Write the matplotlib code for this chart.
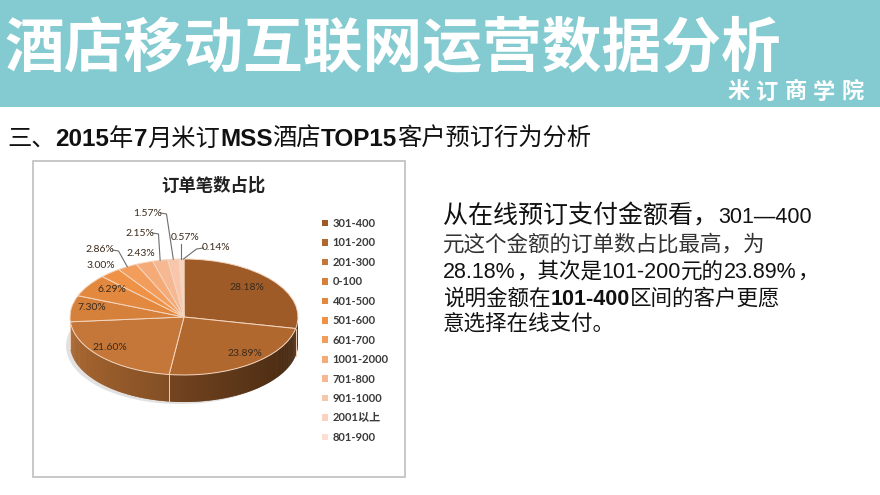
import numpy as np
import matplotlib
matplotlib.use("Agg")
import matplotlib.pyplot as plt
from matplotlib.patches import Rectangle, Ellipse, Polygon
from matplotlib.colors import to_rgb

CJK = ['Noto Sans CJK SC', 'DejaVu Sans']
LAT = ['Liberation Sans', 'Noto Sans CJK SC']
SMALL = ['Lato', 'Noto Sans CJK SC']

# ---------------- data ----------------
page_title = "酒店移动互联网运营数据分析"
brand = "米订商学院"
chart_title = "订单笔数占比"
categories = ["301-400", "101-200", "201-300", "0-100", "401-500", "501-600",
              "601-700", "1001-2000", "701-800", "901-1000", "2001以上", "801-900"]
shares = [28.18, 23.89, 21.60, 7.30, 6.29, 3.00, 2.86, 2.43, 2.15, 1.57, 0.57, 0.14]
pct_labels = ["28.18%", "23.89%", "21.60%", "7.30%", "6.29%", "3.00%",
              "2.86%", "2.43%", "2.15%", "1.57%", "0.57%", "0.14%"]

# ---------------- style / layout ----------------
colors = ['#9e5b27', '#b0682f', '#c47738', '#d5813b', '#e3893f', '#ef9246',
          '#f29d5b', '#f4ab78', '#f6b892', '#f8c6ab', '#fad3c0', '#fcdfd2']
# label centres (image pixels) and whether a leader line is drawn
label_pos = [(247, 287), (245, 354), (110, 347), (92, 307), (112, 289), (101, 266),
             (100, 250), (141, 253), (140, 233), (148, 213), (185, 238), (216, 248)]
leader = [False, False, False, False, False, False, True, False, True, True, True, True]

W, H = 880, 495
fig = plt.figure(figsize=(W / 100, H / 100), dpi=100)
bg = fig.add_axes([0, 0, 1, 1])
bg.set_xlim(0, W)
bg.set_ylim(H, 0)
bg.axis('off')

# header band
bg.add_patch(Rectangle((0, 0), W, 107, facecolor='#83cbd0', edgecolor='none', zorder=0))
bg.text(5, 50, page_title, fontsize=43, color='white', weight='bold', family=CJK,
        ha='left', va='center')
for i, ch in enumerate(brand):
    bg.text(727 + i * 28.7, 92, ch, fontsize=16, color='white', weight='bold',
            family=CJK, ha='left', va='center')

renderer = fig.canvas.get_renderer()


def write_segments(x, y, segs):
    for s, props in segs:
        t = bg.text(x, y, s, ha='left', va='baseline', **props)
        bb = t.get_window_extent(renderer)
        x += bb.width


cj = dict(family=CJK, fontsize=17.5, color='#111111')
lb = dict(family=LAT, fontsize=17.5, weight='bold', color='#111111')
write_segments(7, 146, [("三、", cj), ("2015", lb), ("年", cj), ("7", lb), ("月米订", cj),
                        ("MSS", lb), ("酒店", cj), ("TOP15", lb), ("客户预订行为分析", cj)])

# paragraph on the right
p1c = dict(family=CJK, fontsize=18, color='#111111', weight='medium')
p1l = dict(family=LAT, fontsize=15.5, color='#111111')
pc = dict(family=CJK, fontsize=15.5, color='#111111')
pl = dict(family=LAT, fontsize=15.5, color='#111111')
pb = dict(family=LAT, fontsize=15.5, color='#111111', weight='bold')
write_segments(443, 223, [("从在线预订支付金额看，", p1c), ("301—400", p1l)])
write_segments(443, 251, [("元这个金额的订单数占比最高，为", dict(pc, color='#333333'))])
write_segments(443, 278, [("28.18%", pl), ("，其次是", pc), ("101-200", pl), ("元的", pc),
                          ("23.89%", pl), ("，", pc)])
write_segments(443, 305, [("说明金额在", pc), ("101-400", pb), ("区间的客户更愿", pc)])
write_segments(443, 330, [("意选择在线支付。", pc)])

# chart frame
bg.add_patch(Rectangle((33, 161), 372, 316, fill=False, edgecolor='#bfbfbf', lw=1.2, zorder=1))
bg.text(213, 186, chart_title, fontsize=12.5, weight='bold', family=CJK,
        color='#222222', ha='center', va='center')

# ---------------- 3D-like pie ----------------
CX, CY, RX, RY = 184, 317, 114, 58
DEPTH = 27 / RY
pa = fig.add_axes([0, 0, 1, 1])
pa.patch.set_alpha(0)

wedges, _ = pa.pie(shares, colors=colors, startangle=90, counterclock=False, radius=1,
                   wedgeprops=dict(edgecolor='#f4d6c0', linewidth=0.7, zorder=3))
pa.set_aspect('auto')
pa.set_xlim(-CX / RX, (W - CX) / RX)
pa.set_ylim((CY - H) / RY, CY / RY)
pa.axis('off')

frac = np.array(shares) / np.sum(shares)
cum_end = np.cumsum(frac)
cum_start = cum_end - frac

# soft shadow (lower left)
pa.add_patch(Ellipse((-0.035, -DEPTH - 0.035), 2.0, 2.0, facecolor='#bdbdbd',
                     edgecolor='none', alpha=0.45, zorder=0.5))

# side walls (front half), overlapping strips to avoid seams
ts = np.linspace(180, 360, 241)
step = ts[1] - ts[0]
for t1, t2 in zip(ts[:-1], ts[1:]):
    tm = 0.5 * (t1 + t2)
    f = ((90 - tm) % 360) / 360
    idx = min(np.searchsorted(cum_end, f), len(shares) - 1)
    shade = 0.63 - 0.22 * np.cos(np.radians(tm))
    c = np.clip(np.array(to_rgb(colors[idx])) * shade, 0, 1)
    a1 = np.radians(t1)
    a2 = np.radians(min(t2 + 0.8 * step, 360))
    poly = [(np.cos(a1), np.sin(a1)), (np.cos(a2), np.sin(a2)),
            (np.cos(a2), np.sin(a2) - DEPTH), (np.cos(a1), np.sin(a1) - DEPTH)]
    pa.add_patch(Polygon(poly, closed=True, facecolor=c, edgecolor='none', lw=0, zorder=1))
for ce in cum_end[:-1]:
    a = (90 - 360 * ce) % 360
    if 180 < a < 360:
        r = np.radians(a)
        pa.plot([np.cos(r), np.cos(r)], [np.sin(r), np.sin(r) - DEPTH],
                color='#f0cdb4', lw=0.7, zorder=2)

# percentage labels
for i, (lx, ly) in enumerate(label_pos):
    u, v = (lx - CX) / RX, (CY - ly) / RY
    pa.text(u, v, pct_labels[i], fontsize=7.5, family=SMALL, color='#3a2a1c',
            ha='center', va='center', zorder=5)
    if leader[i]:
        mid = 0.5 * (cum_start[i] + cum_end[i])
        ang = np.radians(90 - 360 * mid)
        ax_, ay_ = np.cos(ang), np.sin(ang)
        half = 12.5 / RX
        if ax_ > u + half:
            sx, sy = u + half, v
            ex, ey = sx + 6 / RX, v - 1 / RY
        elif ax_ < u - half:
            sx, sy = u - half, v
            ex, ey = sx - 7 / RX, v - 1 / RY
        else:
            sx, sy = ax_, v - 6 / RY
            ex, ey = sx, sy
        pa.plot([sx, ex, ax_], [sy, ey, ay_], color='#6e6e6e', lw=0.8, zorder=4)

# legend
leg = pa.legend(wedges, categories, loc='upper left',
                bbox_to_anchor=(322 / W, 1 - 218 / H), bbox_transform=fig.transFigure,
                frameon=False, prop=dict(family=SMALL, size=8, weight='bold'),
                handlelength=0.55, handleheight=0.55, handletextpad=0.4,
                labelspacing=0.76, borderpad=0, borderaxespad=0)
for t in leg.get_texts():
    t.set_color('#3a3a3a')
for h in leg.legend_handles:
    h.set_edgecolor('none')

fig.savefig("out.png", dpi=100)
